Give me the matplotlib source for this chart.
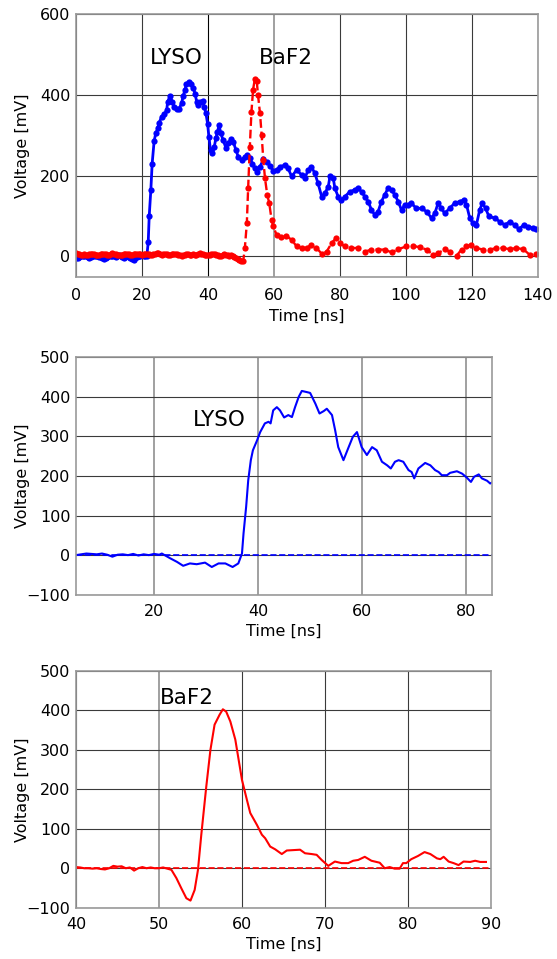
import numpy as np
import matplotlib
matplotlib.use("Agg")
import matplotlib.pyplot as plt

plt.rcParams['font.family'] = ['DejaVu Sans']

# ---- top panel: both crystals, sampled points ----
# baseline before the LYSO pulse, 0.5 ns samples
t_lyso = list(np.arange(0, 22, 0.5)) + [
    21.9, 22.2, 22.7, 23.1, 23.7, 24.2, 24.8, 25.2, 26, 26.8,
    27.5, 27.8, 28.5, 29.2, 29.8, 30.5, 31.3, 32, 32.5, 33,
    33.5, 34.3, 35, 35.6, 36.1, 36.6, 37.1, 37.6, 38.4, 38.9,
    39.4, 39.9, 40.3, 40.8, 41.3, 41.9, 42.4, 42.9, 43.4, 43.9,
    44.6, 45.5, 46.2, 46.9, 47.7, 48.5, 49.2, 50.2, 51.2, 52,
    52.7, 53.5, 54.2, 54.9, 55.8, 56.8, 57.8, 58.8, 59.8, 60.8,
    61.8, 63.3, 64.3, 65.4, 66.9, 68.4, 69.4, 70.4, 71.4, 72.4,
    73.4, 74.5, 75.5, 76.5, 77, 78, 78.5, 79.5, 80.5, 81.5,
    83, 84.5, 85.5, 86.6, 87.6, 88.6, 89.6, 90.6, 91.6, 92.6,
    93.6, 94.6, 95.7, 96.7, 97.7, 98.7, 99.7, 100.7, 101.7, 103.2,
    104.8, 106.3, 107.8, 108.8, 109.8, 110.8, 111.8, 113.3, 114.8, 116.4,
    117.6, 118.4, 119.4, 120.4, 121.4, 122.4, 123.2, 124.2, 125.2, 127,
    128.5, 130, 131.5, 133, 134.3, 135.8, 137.1, 138.6, 139.6]
v_lyso = [
    -4, -3, -2, 0, 1, 2, 0, -1, -3, -2, 1,
    2, 1, 0, -1, -2, -4, -7, -5, -2, 0, 1,
    2, 0, -1, 1, 3, 1, -2, -4, -2, 0, -1,
    -3, -6, -9, -5, -1, 1, 2, 4, 2, 0, 2] + [
    35, 99, 165, 230, 286, 305, 317, 331, 346, 352,
    362, 383, 397, 383, 370, 366, 366, 379, 397, 411,
    428, 432, 426, 416, 403, 383, 375, 383, 385, 370,
    354, 329, 296, 263, 255, 270, 292, 309, 325, 305,
    288, 268, 280, 290, 284, 263, 247, 239, 247, 251,
    243, 230, 218, 210, 222, 240, 235, 225, 212, 214,
    222, 226, 218, 198, 214, 202, 194, 214, 222, 206,
    181, 148, 157, 173, 198, 194, 169, 148, 140, 148,
    160, 165, 169, 160, 148, 136, 115, 103, 111, 136,
    152, 169, 165, 152, 136, 115, 128, 128, 132, 119,
    119, 111, 95, 107, 132, 119, 107, 119, 132, 136,
    140, 128, 95, 82, 78, 115, 132, 119, 99, 95,
    86, 78, 86, 78, 68, 78, 74, 70, 68]

t_baf2 = list(np.arange(0, 50.5, 0.5)) + [
    50.7, 51.2, 51.8, 52.2, 52.7, 53.2, 53.7, 54.2, 54.8, 55.2,
    55.8, 56.3, 56.8, 57.3, 58, 58.6, 59.3, 59.8, 60.8, 62.3,
    63.8, 65.4, 66.9, 68.4, 69.9, 71.4, 72.9, 74.5, 76, 77.5,
    78.8, 80, 81.5, 83.5, 85.5, 87.6, 89.6, 91.6, 93.6, 95.7,
    97.7, 100.2, 102.2, 104.2, 106.3, 108.3, 109.8, 111.8, 113.3, 115.4,
    116.9, 118.4, 119.9, 121.4, 123.4, 125.5, 127.5, 129.5, 131.5, 133.5,
    135.6, 137.6, 139.6]
v_baf2 = [
    8, 7, 6, 4, 4, 5, 3, 4, 5, 6,
    7, 5, 4, 3, 3, 5, 6, 5, 5, 4,
    4, 6, 8, 7, 5, 4, 3, 4, 4, 6,
    7, 6, 5, 4, 3, 5, 5, 6, 7, 5,
    4, 5, 6, 5, 5, 3, 3, 5, 7, 8,
    8, 6, 4, 5, 5, 6, 3, 4, 5, 7,
    6, 5, 4, 3, 2, 4, 4, 5, 5, 3,
    4, 6, 3, 4, 6, 8, 7, 6, 4, 3,
    3, 4, 5, 7, 6, 4, 4, 2, 2, 3,
    5, 3, 4, 2, 3, 1, -2, -5, -7, -9,
    -10] + [
    -12, 21, 82, 169, 270, 358, 413, 438, 435, 399,
    354, 300, 239, 194, 152, 132, 91, 75, 54, 49,
    51, 41, 25, 21, 21, 29, 21, 7, 12, 33,
    45, 33, 25, 21, 21, 12, 17, 17, 17, 10,
    18, 25, 26, 23, 17, 4, 8, 18, 12, 2,
    17, 25, 29, 21, 17, 17, 21, 21, 18, 21,
    18, 4, 7]

# ---- middle panel: LYSO ----
t_lyso2 = list(range(5, 22)) + [
    21.5, 23.1, 24.4, 25.6, 26.9, 28.2, 29.8, 31.1, 32.4, 33.7,
    35.1, 36.2, 36.9, 37.2, 37.7, 38.1, 38.6, 39, 39.8, 40.4,
    41.3, 42, 42.4, 42.9, 43.6, 44.2, 45, 45.8, 46.5, 47.1,
    47.8, 48.4, 49.4, 50, 51, 51.8, 52.6, 53.2, 54.2, 54.8,
    55.4, 56.4, 57.4, 58.2, 59, 59.9, 60.9, 61.9, 62.8, 63.8,
    64.8, 65.5, 66.3, 67, 67.9, 68.9, 69.5, 70, 70.8, 72.1,
    73.1, 74, 74.7, 75.3, 76.3, 76.9, 78.2, 79.2, 80.1, 80.9,
    81.5, 82.4, 83, 84, 84.6, 85.1]
v_lyso2 = [0, 2, 4, 3, 2, 4, 1, -4, 1, 2, 0, 3, -1, 2, 0, 3, 1] + [
    4, -8, -17, -27, -21, -23, -19, -30, -21, -21,
    -30, -21, 4, 55, 122, 189, 240, 265, 290, 311,
    333, 337, 333, 366, 374, 366, 348, 354, 349, 374,
    400, 415, 412, 410, 383, 358, 364, 370, 354, 316,
    273, 240, 273, 299, 311, 273, 253, 273, 265, 236,
    227, 219, 236, 240, 236, 215, 210, 194, 219, 233,
    227, 215, 210, 202, 202, 208, 212, 206, 196, 185,
    198, 204, 194, 188, 181, 185]

# ---- bottom panel: BaF2 ----
t_baf22 = list(np.arange(40, 51, 0.5)) + [
    51.5, 52.1, 52.7, 53.3, 53.8, 54.3, 54.7, 55.1, 55.7, 56.2,
    56.7, 57.3, 57.7, 58.1, 58.6, 59.2, 59.6, 60, 60.6, 61,
    61.8, 62.4, 62.8, 63.4, 64, 64.8, 65.4, 66.2, 67, 67.6,
    68.4, 69, 69.6, 70.4, 71.2, 72, 72.8, 73.4, 74, 74.8,
    75.6, 76.6, 77.2, 77.8, 78.4, 79, 79.4, 79.8, 80.4, 81.2,
    82, 82.7, 83.5, 83.9, 84.3, 84.9, 85.5, 86.1, 86.7, 87.5,
    88.1, 88.7, 89.4]
v_baf22 = [3, 2, 0, 0, -1, 0, -2, -3, 0, 6, 4, 5, 0, 2, -6, 0, 3, 0, 2, 0, 0, 2] + [
    -4, -25, -51, -76, -82, -55, -4, 85, 207, 300,
    364, 389, 403, 397, 372, 326, 275, 224, 173, 140,
    110, 85, 76, 55, 48, 36, 45, 46, 47, 38,
    36, 34, 21, 6, 17, 13, 13, 19, 21, 29,
    19, 14, 0, 3, -1, -1, 13, 13, 23, 31,
    41, 36, 25, 23, 29, 17, 13, 8, 17, 16,
    19, 16, 16]

fig = plt.figure(figsize=(5.57, 9.59), dpi=100)
ax1 = fig.add_axes([0.1364, 0.7115, 0.829, 0.2739])
ax2 = fig.add_axes([0.1364, 0.3799, 0.7474, 0.2475])
ax3 = fig.add_axes([0.1364, 0.0535, 0.745, 0.2468])

def style(ax, pad, ylab_x):
    ax.grid(True, color='#3a3a3a', lw=0.8)
    ax.set_axisbelow(True)
    for s in ax.spines.values():
        s.set_color('#999999')
        s.set_linewidth(1.2)
    ax.tick_params(axis='x', length=0, labelsize=11.5, pad=pad)
    ax.tick_params(axis='y', length=0, labelsize=11.5, pad=4)
    ax.set_xlabel('Time [ns]', fontsize=11.5, labelpad=3.5)
    ax.set_ylabel('Voltage [mV]', fontsize=11.5)
    ax.yaxis.set_label_coords(ylab_x, 0.5)

def gray_line(line):
    line.set_color('#999999')
    line.set_linewidth(1.3)

ax1.plot(t_lyso, v_lyso, '-', color='blue', lw=2.0, marker='o', ms=4.5, mew=0)
ax1.plot(t_baf2, v_baf2, '--', color='red', lw=1.7, marker='o', ms=4.5, mew=0)
ax1.set_xlim(0, 140)
ax1.set_ylim(-50, 600)
ax1.set_xticks(range(0, 141, 20))
ax1.set_yticks(range(0, 601, 200))
style(ax1, 8.5, -0.100)
xg = ax1.get_xgridlines()
xg[2].set_color('black')
gray_line(xg[3])
ax1.text(30.5, 492, 'LYSO', fontsize=15.5, ha='center', va='center')
ax1.text(63.5, 492, 'BaF2', fontsize=15.5, ha='center', va='center')

ax2.plot(t_lyso2, v_lyso2, '-', color='blue', lw=1.5)
ax2.axhline(0, color='blue', ls='--', lw=1.2)
ax2.set_xlim(5, 85)
ax2.set_ylim(-100, 500)
ax2.set_xticks([20, 40, 60, 80])
ax2.set_yticks(range(-100, 501, 100))
style(ax2, 6.5, -0.111)
for g in ax2.get_xgridlines():
    gray_line(g)
ax2.text(32.5, 341, 'LYSO', fontsize=15.5, ha='center', va='center')

ax3.plot(t_baf22, v_baf22, '-', color='red', lw=1.5)
ax3.axhline(0, color='red', ls='--', lw=1.2)
ax3.set_xlim(40, 90)
ax3.set_ylim(-100, 500)
ax3.set_xticks(range(40, 91, 10))
ax3.set_yticks(range(-100, 501, 100))
style(ax3, 6.5, -0.111)
gray_line(ax3.get_xgridlines()[1])
ax3.text(53.4, 432, 'BaF2', fontsize=15.5, ha='center', va='center')

fig.savefig('out.png', dpi=100)
